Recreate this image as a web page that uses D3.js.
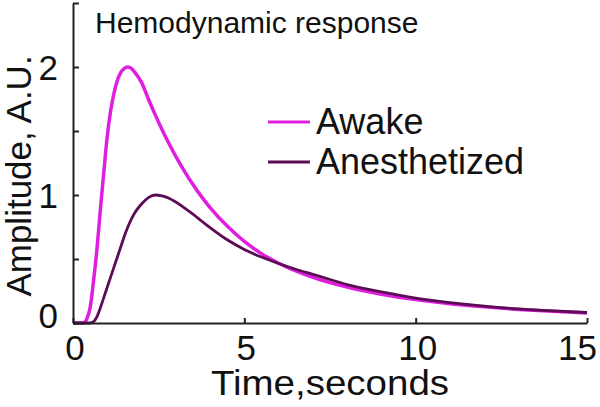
<!DOCTYPE html>
<html><head><meta charset="utf-8">
<script src="https://cdn.jsdelivr.net/npm/d3@7"></script>
<style>body{margin:0;background:#fff}svg{display:block}text{font-family:"Liberation Sans",Arial,sans-serif;fill:#111}</style>
</head><body>
<svg id="c" width="600" height="407"></svg>
<script>
const time = [0, 0.3, 0.4, 0.5, 0.6, 0.7, 0.8, 0.9, 1.0, 1.1, 1.2, 1.3, 1.4, 1.5, 1.6, 1.7, 1.8, 2.0, 2.2, 2.4, 2.6, 2.8, 3.0, 3.25, 3.5, 3.75, 4.0, 4.5, 5.0, 5.5, 6.0, 6.5, 7.0, 7.5, 8, 9, 10, 11, 12, 13, 14, 15];
const awake = [0, 0, 0.03, 0.12, 0.33, 0.58, 0.89, 1.18, 1.46, 1.66, 1.80, 1.90, 1.96, 1.99, 2.0, 1.99, 1.96, 1.88, 1.75, 1.626, 1.51, 1.402, 1.302, 1.187, 1.082, 0.987, 0.902, 0.757, 0.637, 0.542, 0.467, 0.407, 0.357, 0.315, 0.28, 0.225, 0.183, 0.151, 0.126, 0.106, 0.091, 0.079];
const anesthetized = [0, 0, 0, 0, 0.01, 0.05, 0.12, 0.20, 0.28, 0.36, 0.44, 0.52, 0.60, 0.68, 0.75, 0.81, 0.86, 0.93, 0.98, 1.0, 0.993, 0.975, 0.945, 0.90, 0.85, 0.797, 0.745, 0.65, 0.575, 0.515, 0.465, 0.42, 0.38, 0.34, 0.30, 0.243, 0.195, 0.16, 0.132, 0.11, 0.094, 0.082];
const seriesNames = ["Awake", "Anesthetized"];
const xTicks = [0, 5, 10, 15];
const yTicks = [0, 0.5, 1, 1.5, 2, 2.5];
const yTickLabels = {0: "0", 1: "1", 2: "2"};
const title = "Hemodynamic response";
const xLabel = "Time,seconds";
const yLabel = "Amplitude, A.U.";

const colors = ["#e01ee0", "#5c0b55"];
const svg = d3.select("#c");
const x = d3.scaleLinear().domain([0, 15]).range([73, 587]);
const y = d3.scaleLinear().domain([0, 2.5]).range([323, 3]);

const line = vals => d3.line().x((d, i) => x(time[i])).y(d => y(d)).curve(d3.curveMonotoneX)(vals);

// curves
svg.append("path").attr("d", line(awake)).attr("fill", "none").attr("stroke", colors[0]).attr("stroke-width", 3.5);
svg.append("path").attr("d", line(anesthetized)).attr("fill", "none").attr("stroke", colors[1]).attr("stroke-width", 2.8);

// axes
const ax = svg.append("g").attr("transform", "translate(0,323)")
  .call(d3.axisBottom(x).tickValues(xTicks).tickSizeInner(-5).tickSizeOuter(0).tickFormat(""));
const ay = svg.append("g").attr("transform", "translate(73,0)")
  .call(d3.axisLeft(y).tickValues(yTicks).tickSizeInner(-6).tickSizeOuter(0).tickFormat(""));
[ax, ay].forEach(g => {
  g.select(".domain").attr("stroke", "#222").attr("stroke-width", 2);
  g.selectAll(".tick line").attr("stroke", "#222").attr("stroke-width", 2);
});

// tick labels
svg.selectAll(".xl").data(xTicks).enter().append("text")
  .attr("x", d => d === 15 ? 597 : x(d) + 2).attr("y", 360)
  .attr("text-anchor", d => d === 15 ? "end" : "middle")
  .attr("font-size", 35).text(d => d);
svg.selectAll(".yl").data(yTicks.filter(v => yTickLabels[v] !== undefined)).enter().append("text")
  .attr("x", 58).attr("y", d => y(d) + 13 - (d === 0 ? 8 : 0)).attr("text-anchor", "end")
  .attr("font-size", 35).text(d => yTickLabels[d]);

// axis titles
svg.append("text").attr("transform", "translate(330,395) scale(1.1,1)").attr("text-anchor", "middle").attr("font-size", 35).text(xLabel);
svg.append("text").attr("transform", "translate(31,176) rotate(-90)").attr("text-anchor", "middle").attr("font-size", 35).text(yLabel);

// title
svg.append("text").attr("x", 95).attr("y", 33).attr("font-size", 30).text(title);

// legend
seriesNames.forEach((n, i) => {
  const ly = 122 + i * 40;
  svg.append("line").attr("x1", 268).attr("x2", 310).attr("y1", ly).attr("y2", ly)
    .attr("stroke", colors[i]).attr("stroke-width", 3);
  svg.append("text").attr("x", 316).attr("y", ly + 12).attr("font-size", 36).text(n);
});
</script>
</body></html>
